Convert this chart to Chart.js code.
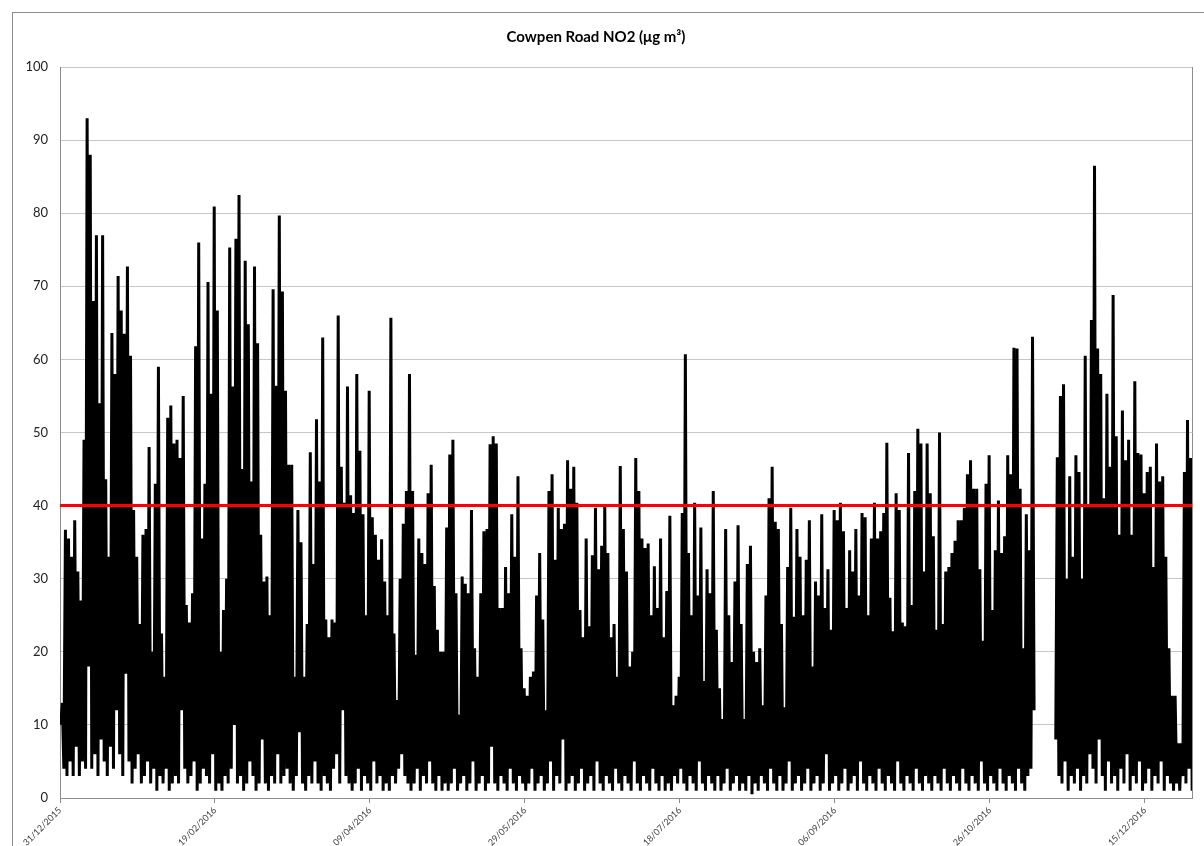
<!DOCTYPE html>
<html>
<head>
<meta charset="utf-8">
<script src="https://cdn.jsdelivr.net/npm/chart.js@4.4.1/dist/chart.umd.min.js"></script>
<style>
  html, body { margin: 0; padding: 0; background: #fff; }
</style>
</head>
<body>
<canvas id="myChart" width="1204" height="846"></canvas>
<script>
// x axis: days counted from 31/12/2015, one label every 50 days
const dateLabels = ["31/12/2015", "19/02/2016", "09/04/2016", "29/05/2016",
                    "18/07/2016", "06/09/2016", "26/10/2016", "15/12/2016"];
const limitValue = 40;

// daily peak and daily minimum NO2 (null = no data)
const dailyHigh = [
  13, 36.7, 35.5, 33, 38, 31, 27, 49, 93, 88,
  68, 77, 54, 77, 43.6, 33, 63.6, 58, 71.4, 66.7,
  63.5, 72.7, 60.5, 39.4, 33, 23.8, 36, 36.8, 48, 20,
  43, 59, 22.5, 16.6, 52, 53.7, 48.5, 49, 46.5, 55,
  26.4, 24, 28, 61.8, 76, 35.5, 43, 70.6, 55.3, 80.9,
  66.7, 20, 25.7, 30, 75.3, 56.3, 76.5, 82.5, 45, 73.5,
  64.8, 43.3, 72.7, 62.2, 36, 29.6, 30.3, 25, 69.6, 56.4,
  79.7, 69.3, 55.7, 45.6, 45.6, 16.6, 39.4, 35, 16.6, 23.8,
  47.3, 32, 51.8, 43.3, 63, 24.4, 22, 24.4, 24, 66,
  45.3, 40.4, 56.3, 41.4, 39, 58, 47.5, 38.8, 25, 55.7,
  38.4, 36, 32.6, 35.4, 29.6, 25, 65.7, 22.5, 13.4, 30,
  37.5, 42, 58, 42, 19.6, 35.5, 33.5, 32, 41.7, 45.6,
  29, 23, 20, 20, 37, 47, 49, 28, 11.4, 30.3,
  29.3, 28, 39.4, 20.5, 16.6, 28, 36.5, 36.8, 48.4, 49.5,
  48.5, 26, 26, 31.6, 28, 38.8, 33, 44, 20.5, 15,
  14, 16.6, 17.3, 27.7, 33.5, 24.4, 12, 42, 44.3, 32.6,
  39.7, 36.8, 37.5, 46.2, 42.3, 45.3, 40.4, 25.7, 22, 35.5,
  23.5, 33.2, 39.7, 31.3, 34.5, 40, 33.5, 22, 23.8, 16.6,
  45.4, 36.8, 31, 18, 20, 46.5, 42, 35.5, 34.2, 34.8,
  25, 31.7, 26, 35.5, 22, 28.3, 38.6, 12.7, 14, 16.6,
  39, 60.7, 33.5, 25, 40.4, 27.7, 37, 16, 31.3, 28,
  42, 23, 15, 10.8, 36.8, 25, 18.6, 29.6, 37.3, 23.8,
  10.8, 32, 34.5, 20, 18.6, 20.5, 12.7, 27.7, 41, 45.3,
  37.8, 36.8, 23.8, 12.4, 31.6, 39.7, 24.8, 36.8, 33, 25,
  32.6, 38, 18, 29.6, 27.7, 38.8, 26, 31.3, 23, 39.4,
  38, 40.4, 36.5, 26, 33.9, 31, 36.8, 27.7, 39, 38.4,
  25, 35.5, 40.4, 35.5, 36.5, 39, 48.6, 27.4, 22.8, 41.7,
  39.4, 24, 23.5, 47.2, 26.4, 42, 50.5, 48.5, 31, 48.5,
  41.7, 35.8, 23, 50, 23.8, 31, 31.6, 33.5, 35.2, 38,
  38, 39.7, 44.3, 46.2, 42.3, 42.3, 31.3, 21.5, 43, 46.9,
  25.7, 33.9, 40.7, 33.5, 35.8, 46.9, 44.3, 61.6, 61.5, 42.3,
  20.5, 38.8, 33.9, 63.1, null, null, null, null, null, null,
  null, 46.6, 55, 56.6, 30, 44, 33, 46.9, 44.6, 30,
  60.5, 40, 65.4, 86.5, 61.5, 58, 41, 55.3, 45.3, 68.8,
  49.5, 36, 53, 46.2, 49, 36, 57, 47.2, 47, 41.7,
  44.6, 45.3, 31.6, 48.5, 43.3, 44, 33, 20.5, 14, 14,
  7.5, 7.5, 44.6, 51.7, 46.5, 36
];

const dailyLow = [
  10, 4, 3, 5, 3, 7, 3, 5, 4, 18,
  4, 6, 3, 8, 5, 3, 7, 4, 12, 6,
  3, 17, 5, 2, 4, 6, 2, 3, 5, 2,
  4, 1, 3, 2, 4, 1, 2, 3, 2, 12,
  4, 2, 3, 5, 1, 2, 4, 3, 2, 6,
  1, 2, 1, 3, 2, 4, 10, 2, 3, 1,
  2, 5, 3, 1, 2, 8, 2, 1, 3, 2,
  6, 2, 3, 4, 2, 1, 3, 9, 2, 1,
  3, 2, 5, 2, 1, 3, 2, 1, 4, 6,
  2, 12, 3, 2, 1, 2, 4, 1, 3, 2,
  1, 5, 2, 3, 1, 2, 1, 3, 2, 4,
  6, 3, 2, 1, 2, 4, 1, 3, 2, 5,
  2, 1, 3, 1, 2, 1, 2, 4, 1, 2,
  3, 1, 2, 5, 1, 2, 3, 1, 2, 7,
  2, 1, 3, 2, 1, 4, 2, 1, 3, 2,
  1, 2, 4, 1, 2, 3, 1, 2, 5, 1,
  3, 2, 8, 1, 2, 3, 1, 2, 4, 1,
  2, 3, 1, 5, 2, 1, 3, 2, 1, 4,
  2, 1, 3, 2, 1, 5, 2, 1, 3, 2,
  1, 4, 2, 1, 3, 1, 2, 1, 3, 2,
  4, 2, 1, 3, 2, 1, 5, 2, 1, 3,
  2, 1, 3, 1, 2, 4, 1, 2, 3, 1,
  2, 1, 3, 0.5, 2, 1, 3, 2, 1, 4,
  2, 1, 3, 1, 2, 5, 1, 2, 3, 1,
  2, 4, 1, 2, 3, 1, 2, 6, 1, 2,
  3, 1, 2, 4, 1, 2, 3, 1, 5, 2,
  1, 3, 2, 1, 4, 2, 1, 3, 2, 1,
  5, 2, 1, 3, 2, 1, 4, 2, 1, 3,
  2, 1, 3, 2, 1, 4, 2, 1, 3, 2,
  1, 4, 2, 1, 3, 2, 1, 5, 2, 1,
  3, 2, 1, 4, 2, 1, 3, 2, 1, 4,
  2, 1, 3, 4, 12, null, null, null, null, null,
  null, 8, 3, 2, 5, 1, 3, 2, 4, 1,
  3, 2, 6, 4, 2, 8, 3, 1, 5, 2,
  3, 1, 4, 2, 6, 1, 3, 2, 5, 1,
  2, 4, 1, 3, 2, 5, 1, 3, 2, 1,
  2, 1, 3, 2, 4, 1
];

const axisMaxDay = 365.2;

// low in the morning, peak later in the day
const no2Points = [];
dailyHigh.forEach((hi, d) => {
  no2Points.push({ x: d + 0.25, y: dailyLow[d] });
  no2Points.push({ x: d + 0.75, y: hi });
});

const framePlugin = {
  id: "frame",
  beforeDraw(chart) {
    const ctx = chart.ctx;
    ctx.save();
    ctx.strokeStyle = "#8c8c8c";
    ctx.lineWidth = 1;
    ctx.strokeRect(12.5, 12.5, chart.width, chart.height);
    ctx.restore();
  },
  afterDraw(chart) {
    const a = chart.chartArea;
    const ctx = chart.ctx;
    ctx.save();
    ctx.strokeStyle = "#8c8c8c";
    ctx.lineWidth = 1;
    ctx.beginPath();
    ctx.moveTo(Math.round(a.right) + 0.5, a.top);
    ctx.lineTo(Math.round(a.right) + 0.5, a.bottom);
    ctx.stroke();
    ctx.restore();
  }
};

new Chart("myChart", {
  type: "line",
  data: {
    datasets: [{
      label: "Limit",
      data: [{ x: 0, y: limitValue }, { x: axisMaxDay, y: limitValue }],
      borderColor: "#ff0000",
      borderWidth: 3,
      pointRadius: 0,
      fill: false,
      order: 0
    }, {
      label: "NO2",
      data: no2Points,
      borderColor: "#000000",
      borderWidth: 3,
      borderJoinStyle: "bevel",
      pointRadius: 0,
      fill: false,
      spanGaps: false,
      order: 1
    }]
  },
  options: {
    responsive: false,
    animation: false,
    layout: { padding: { top: 8, right: 12, left: 0, bottom: 0 } },
    plugins: {
      legend: { display: false },
      tooltip: { enabled: false },
      title: {
        display: true,
        text: "Cowpen Road NO2 (μg m³)",
        color: "#000",
        font: { family: "Lato", size: 15, weight: "bold" },
        padding: { top: 20, bottom: 21 }
      }
    },
    scales: {
      x: {
        type: "linear",
        min: 0,
        max: axisMaxDay,
        afterFit: s => { s.height = 48; },
        border: { color: "#8c8c8c" },
        grid: { drawOnChartArea: false, tickLength: 5, color: "#8c8c8c" },
        ticks: {
          stepSize: 50,
          includeBounds: false,
          autoSkip: false,
          minRotation: 45,
          maxRotation: 45,
          padding: 2,
          color: "#404040",
          font: { family: "Lato", size: 9 },
          callback: v => dateLabels[Math.round(v / 50)]
        }
      },
      y: {
        min: 0,
        max: 100,
        afterFit: s => { s.width = 60; },
        border: { color: "#8c8c8c" },
        grid: { color: "#c6c6c6", tickLength: 0 },
        ticks: {
          stepSize: 10,
          padding: 12,
          color: "#222",
          font: { family: "Lato", size: 13 }
        }
      }
    }
  },
  plugins: [framePlugin]
});
</script>
</body>
</html>
